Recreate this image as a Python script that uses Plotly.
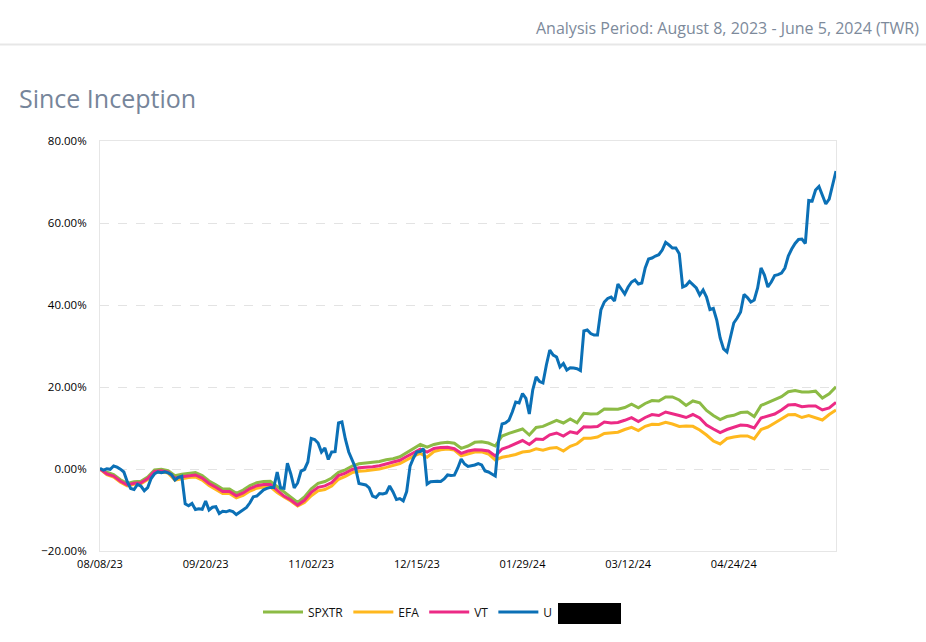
import pandas as pd
import plotly.graph_objects as go

# ---------------- data ----------------
# trading (week)days of the analysis period: every point is one weekday
start_date = "2023-08-08"
end_date = "2024-06-05"
tick_labels = ["08/08/23", "09/20/23", "11/02/23", "12/15/23", "01/29/24", "03/12/24", "04/24/24"]

# benchmarks are read every second weekday
spxtr = [0.0, -0.8, -1.37, -2.63, -3.51, -3.1, -2.98, -1.95, -0.24, -0.07,
         -0.39, -1.63, -1.29, -0.98, -0.85, -1.61, -2.93, -3.85, -4.88, -4.88,
         -5.93, -5.12, -4.05, -3.34, -3.05, -3.02, -4.29, -5.61, -6.76, -8.17,
         -6.83, -4.83, -3.49, -3.05, -2.2, -0.8, -0.2, 0.73, 1.27, 1.44,
         1.61, 1.85, 2.27, 2.49, 2.98, 4.02, 5.17, 6.0, 5.32, 5.98,
         6.34, 6.51, 6.27, 5.05, 5.61, 6.51, 6.66, 6.34, 5.61, 8.05,
         8.71, 9.27, 9.76, 8.29, 10.12, 10.39, 11.17, 11.85, 11.22, 12.2,
         11.27, 13.59, 13.41, 13.46, 14.63, 14.51, 14.56, 15.0, 15.8, 14.93,
         15.98, 16.68, 16.59, 17.56, 17.56, 16.83, 15.49, 16.59, 16.15, 14.27,
         13.05, 12.07, 12.8, 13.1, 13.78, 13.9, 12.8, 15.49, 16.22, 16.95,
         17.63, 18.85, 19.15, 18.78, 18.78, 18.98, 17.32, 18.34, 20.05]

efa = [0.0, -1.41, -1.98, -3.24, -4.12, -3.71, -3.59, -2.56, -0.85, -0.68,
       -1.0, -2.73, -2.39, -2.07, -1.95, -2.71, -4.02, -4.95, -5.98, -5.98,
       -7.02, -6.46, -5.39, -4.68, -4.39, -4.37, -5.76, -6.83, -7.8, -9.02,
       -8.2, -6.54, -5.32, -5.0, -4.15, -2.51, -1.83, -0.88, -0.54, -0.44,
       -0.27, -0.02, 0.39, 0.78, 1.34, 2.2, 3.15, 3.8, 2.88, 4.27,
       4.71, 4.9, 4.63, 3.2, 3.66, 4.15, 4.2, 3.66, 2.2, 2.85,
       3.17, 3.54, 4.15, 4.32, 4.93, 4.56, 5.05, 5.24, 4.39, 5.54,
       6.15, 7.49, 7.49, 7.8, 8.68, 8.9, 8.98, 9.63, 10.17, 9.39,
       10.41, 10.9, 10.85, 11.37, 10.98, 10.37, 10.49, 10.41, 9.51, 8.29,
       6.83, 6.1, 7.44, 7.8, 8.05, 8.05, 7.32, 9.63, 10.24, 11.22,
       12.2, 13.22, 13.29, 12.56, 13.05, 12.56, 11.95, 13.29, 14.39]

vt = [0.0, -1.17, -1.73, -3.0, -3.88, -3.46, -3.34, -2.32, -0.61, -0.44,
      -0.76, -2.24, -1.9, -1.59, -1.46, -2.22, -3.54, -4.46, -5.49, -5.49,
      -6.54, -5.85, -4.78, -4.07, -3.78, -3.76, -5.15, -6.59, -7.56, -8.8,
      -7.63, -5.68, -4.46, -4.12, -3.29, -1.61, -1.0, -0.12, 0.29, 0.37,
      0.54, 0.78, 1.22, 1.51, 2.12, 3.05, 3.95, 4.85, 4.1, 5.0,
      5.27, 5.29, 4.95, 3.83, 4.39, 4.68, 4.63, 4.39, 3.17, 4.88,
      5.44, 6.1, 6.95, 5.98, 7.32, 7.2, 8.34, 8.78, 8.05, 9.07,
      8.71, 10.32, 10.24, 10.37, 11.46, 11.22, 11.34, 11.88, 12.54, 11.59,
      12.56, 13.29, 13.05, 13.9, 13.54, 13.05, 12.56, 13.29, 12.44, 10.73,
      9.76, 8.9, 9.63, 10.24, 10.73, 10.61, 10.0, 12.44, 12.93, 13.41,
      14.39, 15.61, 15.73, 15.2, 15.37, 15.37, 14.39, 14.88, 16.27]

# portfolio is read on every weekday
portfolio = [0.17, -0.29, 0.05, -0.07, 0.73, 0.44, -0.05, -0.73, -3.1, -4.76,
             -5.0, -3.78, -4.15, -5.29, -4.54, -2.32, -1.17, -0.71, -0.88, -0.71,
             -0.95, -1.37, -2.68, -2.02, -1.76, -8.5, -8.98, -8.41, -9.88, -9.68,
             -9.83, -7.8, -10.0, -9.34, -9.2, -10.85, -10.32, -10.44, -10.12, -10.41,
             -11.12, -10.49, -10.0, -9.39, -8.24, -6.76, -6.59, -5.93, -5.07, -4.71,
             -4.49, -4.5, -0.73, -4.6, -4.7, 1.39, -1.22, -4.63, -3.41, -0.49,
             -0.12, 1.71, 7.44, 7.2, 6.34, 4.15, 5.12, 2.32, 4.15, 4.22,
             11.22, 11.46, 7.32, 4.15, 2.2, 0.24, -3.54, -3.78, -3.9, -4.63,
             -6.59, -6.95, -5.98, -6.1, -5.85, -4.15, -5.61, -7.44, -7.2, -7.8,
             -5.5, 0.7, 2.68, 4.15, 4.27, 4.93, -3.66, -3.1, -2.98, -3.0,
             -3.05, -2.44, -1.46, -1.6, -1.5, 0.24, 2.44, 1.22, 0.61, 0.73,
             0.98, 1.34, 0.98, -0.49, -0.73, -1.22, -1.71, 7.07, 10.98, 11.22,
             11.9, 13.9, 16.34, 16.1, 18.41, 17.2, 13.41, 19.27, 22.44, 21.34,
             20.98, 25.37, 29.02, 27.8, 27.32, 24.88, 25.73, 24.15, 24.68, 24.63,
             24.46, 24.02, 33.66, 33.9, 33.05, 32.68, 32.68, 38.78, 40.73, 41.59,
             41.95, 40.98, 45.1, 43.9, 42.68, 44.39, 45.61, 46.1, 45.12, 45.37,
             49.02, 51.22, 51.46, 51.95, 52.27, 53.41, 55.29, 54.63, 53.9, 53.9,
             52.5, 44.39, 44.76, 45.73, 45.0, 44.15, 42.44, 43.66, 41.95, 38.9,
             39.15, 36.34, 31.95, 29.27, 28.54, 32.2, 35.61, 36.83, 38.29, 42.56,
             41.83, 40.73, 41.22, 44.15, 49.02, 47.32, 44.39, 45.61, 47.2, 47.39,
             47.8, 49.02, 51.95, 53.66, 55.0, 55.98, 56.1, 55.0, 65.49, 65.37,
             68.05, 68.9, 66.83, 64.63, 65.85, 69.02, 72.68]

series_names = ["SPXTR", "EFA", "VT", "U"]
series_colors = ["#8cbb45", "#ffb81e", "#ec2a85", "#0b70b6"]

# ---------------- figure ----------------
categories = [d.strftime("%m/%d/%y") for d in pd.bdate_range(start_date, end_date)]
bench_x = categories[::2]

fig = go.Figure()
for name, vals, xs, col in [
    (series_names[0], spxtr, bench_x, series_colors[0]),
    (series_names[1], efa, bench_x, series_colors[1]),
    (series_names[2], vt, bench_x, series_colors[2]),
    (series_names[3], portfolio, categories, series_colors[3]),
]:
    fig.add_trace(go.Scatter(x=xs, y=vals, name=name, mode="lines",
                             line=dict(color=col, width=3)))

W, H = 926, 642
ml, mr, mt, mb = 100, 90, 141, 91
pw, ph = W - ml - mr, H - mt - mb


def px_x(x):
    return (x - ml) / pw


def px_y(y):
    return (H - mb - y) / ph


fig.update_layout(
    width=W, height=H,
    margin=dict(l=ml, r=mr, t=mt, b=mb),
    paper_bgcolor="white", plot_bgcolor="white",
    font=dict(family="Open Sans", color="#000000", size=11),
    showlegend=True,
    legend=dict(orientation="h", x=px_x(258), xanchor="left",
                y=px_y(612), yanchor="middle",
                font=dict(size=12, color="#111111"),
                itemwidth=40, tracegroupgap=0),
    xaxis=dict(type="category", categoryorder="array", categoryarray=categories,
               range=[0, len(categories) - 1],
               tickvals=tick_labels, ticktext=tick_labels,
               showgrid=False, zeroline=False,
               showline=True, linecolor="#e6e6e6", linewidth=1, mirror=True,
               ticks="", ticklabelstandoff=3,
               tickfont=dict(size=11, color="#000000")),
    yaxis=dict(range=[-20, 80], dtick=20, tick0=0,
               tickformat=".2f", ticksuffix="%",
               showgrid=True, gridcolor="#e3e3e3", griddash="dash", gridwidth=1,
               zeroline=False,
               showline=True, linecolor="#e6e6e6", linewidth=1, mirror=True,
               ticks="", ticklabelstandoff=10,
               tickfont=dict(size=11.5, color="#000000")),
    annotations=[
        dict(text="Analysis Period: August 8, 2023 - June 5, 2024 (TWR)",
             xref="paper", yref="paper", x=px_x(921), y=px_y(28),
             xanchor="right", yanchor="middle", showarrow=False,
             font=dict(size=16, color="#7d8a9b", family="Open Sans")),
        dict(text="Since Inception",
             xref="paper", yref="paper", x=px_x(17), y=px_y(98),
             xanchor="left", yanchor="middle", showarrow=False,
             font=dict(size=25, color="#76859a", family="Open Sans")),
    ],
    shapes=[
        dict(type="line", xref="paper", yref="paper",
             x0=px_x(0), x1=px_x(W), y0=px_y(44.5), y1=px_y(44.5),
             line=dict(color="#e7e7e7", width=2)),
        dict(type="rect", xref="paper", yref="paper",
             x0=px_x(552), x1=px_x(621), y0=px_y(603), y1=px_y(624),
             fillcolor="black", line=dict(width=0), layer="above"),
    ],
)

fig.write_html("out.html", config={"displayModeBar": False},
               post_script="document.body.style.margin='0';")
